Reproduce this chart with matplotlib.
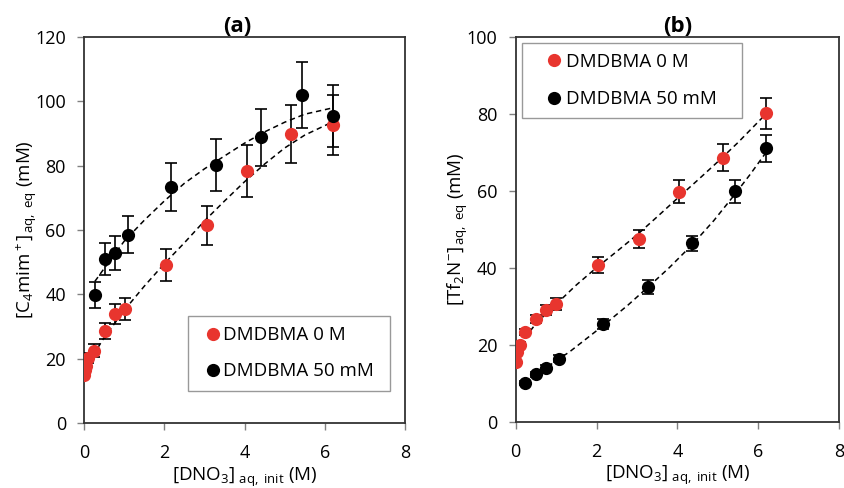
import matplotlib
matplotlib.use("Agg")
import matplotlib.pyplot as plt
import numpy as np

plt.rcParams['font.family'] = ['Open Sans', 'DejaVu Sans']
plt.rcParams['mathtext.fontset'] = 'custom'
plt.rcParams['mathtext.rm'] = 'Open Sans'
plt.rcParams['mathtext.it'] = 'Open Sans:italic'

RED = '#e8352e'

# ---- panel (a): [C4mim+] ----
a_x0 = [0.0, 0.02, 0.04, 0.09, 0.26, 0.52, 0.77, 1.02, 2.04, 3.07, 4.05, 5.15, 6.21]
a_y0 = [15.0, 16.5, 17.7, 20.3, 22.5, 28.5, 33.9, 35.5, 49.2, 61.4, 78.4, 89.8, 92.7]
a_e0 = [1.0, 1.2, 1.3, 1.5, 2.0, 2.5, 3.0, 3.5, 5.0, 6.1, 8.0, 9.0, 9.3]
a_x50 = [0.27, 0.52, 0.77, 1.09, 2.18, 3.30, 4.40, 5.44, 6.21]
a_y50 = [39.9, 51.1, 52.8, 58.5, 73.3, 80.3, 88.8, 102.0, 95.5]
a_e50 = [4.0, 5.0, 5.3, 5.8, 7.4, 8.1, 8.9, 10.3, 9.6]
# fitted curves
a_fx0 = [0.0, 0.25, 0.5, 1.0, 1.5, 2.0, 2.5, 3.0, 3.5, 4.0, 4.5, 5.0, 5.5, 6.21]
a_fy0 = [16.0, 21.5, 26.5, 35.0, 42.5, 49.5, 56.0, 62.8, 69.0, 75.0, 80.5, 85.5, 89.5, 93.7]
a_fx50 = [0.27, 0.5, 1.0, 1.5, 2.0, 2.5, 3.0, 3.5, 4.0, 4.5, 5.0, 5.5, 6.21]
a_fy50 = [44.0, 48.0, 56.5, 63.0, 69.0, 74.5, 79.0, 83.0, 87.0, 90.5, 93.5, 96.0, 98.0]

# ---- panel (b): [Tf2N-] ----
b_x0 = [0.0, 0.02, 0.10, 0.23, 0.50, 0.75, 1.00, 2.03, 3.05, 4.04, 5.13, 6.20]
b_y0 = [15.5, 18.2, 20.0, 23.3, 26.6, 29.0, 30.6, 40.8, 47.4, 59.7, 68.6, 80.1]
b_e0 = [0.6, 0.7, 0.7, 0.8, 1.0, 1.2, 1.5, 2.1, 2.3, 3.0, 3.5, 4.0]
b_x50 = [0.23, 0.49, 0.74, 1.07, 2.17, 3.28, 4.37, 5.42, 6.20]
b_y50 = [10.1, 12.3, 14.0, 16.4, 25.4, 34.9, 46.3, 59.8, 71.0]
b_e50 = [0.5, 0.6, 0.7, 0.8, 1.2, 1.8, 2.0, 3.0, 3.5]
b_fx0 = [0.0, 0.25, 0.5, 1.0, 1.5, 2.0, 2.5, 3.0, 3.5, 4.0, 4.5, 5.0, 5.5, 6.2]
b_fy0 = [17.5, 22.0, 25.5, 30.5, 35.5, 40.0, 44.2, 48.5, 53.2, 58.0, 62.7, 67.5, 72.5, 80.0]
b_fx50 = [0.23, 0.5, 0.75, 1.07, 1.34, 2.17, 2.78, 3.28, 3.8, 4.37, 4.9, 5.42, 5.8, 6.2]
b_fy50 = [10.3, 12.2, 14.0, 16.3, 18.2, 25.0, 30.3, 35.0, 40.0, 46.0, 52.2, 59.0, 64.2, 70.0]

labels = ['DMDBMA 0 M', 'DMDBMA 50 mM']

fig = plt.figure(figsize=(8.45, 4.88), dpi=100)
axa = fig.add_axes([0.0994, 0.1332, 0.380, 0.791])
axb = fig.add_axes([0.6103, 0.1359, 0.3826, 0.789])


def panel(ax, x0, y0, e0, x50, y50, e50, fx0, fy0, fx50, fy50, ymax, title, tx, ylabel):
    ax.plot(fx0, fy0, ls=(0, (3.5, 2.5)), color='black', lw=1.1, zorder=2)
    ax.plot(fx50, fy50, ls=(0, (3.5, 2.5)), color='black', lw=1.1, zorder=2)
    ax.errorbar(x0, y0, yerr=e0, fmt='none', ecolor='black', elinewidth=1.2, capsize=4, capthick=1.2, zorder=3)
    ax.errorbar(x50, y50, yerr=e50, fmt='none', ecolor='black', elinewidth=1.2, capsize=4, capthick=1.2, zorder=3)
    ax.plot(x0, y0, 'o', color=RED, ms=9.5, mec='none', label=labels[0], zorder=4)
    ax.plot(x50, y50, 'o', color='black', ms=9.5, mec='none', label=labels[1], zorder=4)
    ax.set_xlim(0, 8)
    ax.set_ylim(0, ymax)
    ax.set_xticks(np.arange(0, 9, 2))
    ax.set_yticks(np.arange(0, ymax + 1, 20))
    ax.tick_params(direction='out', length=5, width=1, color='#808080', labelsize=13)
    ax.tick_params(axis='x', pad=10)
    ax.tick_params(axis='y', pad=8)
    for s in ax.spines.values():
        s.set_color('#333333')
        s.set_linewidth(1.3)
    ax.set_title(title, fontsize=16, fontweight='bold', pad=0, x=tx)
    ax.set_ylabel(ylabel, fontsize=13.5, labelpad=-2.5)
    ax.set_xlabel(r'[DNO$_3$]$_{\ \mathregular{aq,\ init}}$ (M)', fontsize=13.5, labelpad=2.5)


def legend(ax, x, ytop, w, pad, hl, tp, ls):
    leg = ax.legend(loc='upper left', bbox_to_anchor=(x, ytop, w, 0.0), mode='expand',
                    fontsize=13.5, frameon=True, fancybox=False, borderaxespad=0,
                    borderpad=pad, handlelength=hl, handletextpad=tp, labelspacing=ls)
    leg.get_frame().set_edgecolor('#808080')
    leg.get_frame().set_linewidth(1.0)


panel(axa, a_x0, a_y0, a_e0, a_x50, a_y50, a_e50, a_fx0, a_fy0, a_fx50, a_fy50, 120,
      '(a)', 0.477, r'[C$_4$mim$^+$]$_{\,\mathregular{aq,\ eq}}$ (mM)')
legend(axa, 0.324, 0.277, 0.629, 0.54, 1.6, -0.27, 0.97)
panel(axb, b_x0, b_y0, b_e0, b_x50, b_y50, b_e50, b_fx0, b_fy0, b_fx50, b_fy50, 100,
      '(b)', 0.5, r'[Tf$_2$N$^{-}$]$_{\,\mathregular{aq,\ eq}}$ (mM)')
legend(axb, 0.0186, 0.983, 0.680, 0.5, 2.42, -0.57, 1.06)

fig.savefig('out.png', dpi=100)
